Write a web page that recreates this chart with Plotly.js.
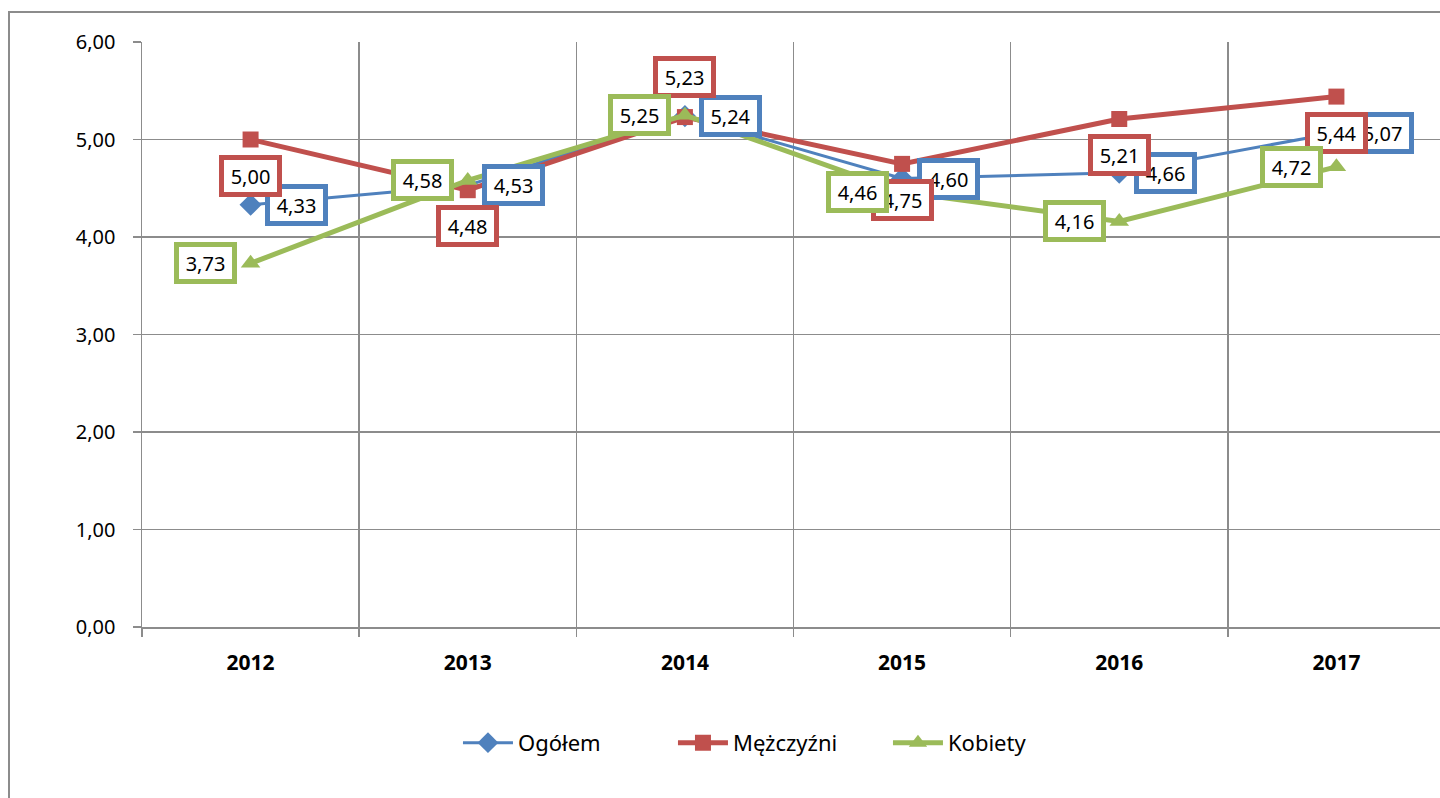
<!DOCTYPE html>
<html>
<head>
<meta charset="utf-8">
<script src="https://cdn.plot.ly/plotly-3.0.1.min.js"></script>
<style>
  html, body { margin: 0; padding: 0; overflow: hidden; background: #fff; width: 1440px; height: 798px; }
  #chart { position: absolute; left: 0; top: 0; width: 1460px; height: 800px; }
  #frame { position: absolute; left: 8px; top: 11px; width: 1500px; height: 900px;
           border-left: 2px solid #8c8c8c; border-top: 2px solid #8c8c8c; pointer-events: none; }
</style>
</head>
<body>
<div id="frame"></div>
<div id="chart"></div>
<script>
// ---- data ----
const years = ['2012', '2013', '2014', '2015', '2016', '2017'];
const ogolem = [4.33, 4.53, 5.24, 4.60, 4.66, 5.07];
const mezczyzni = [5.00, 4.48, 5.23, 4.75, 5.21, 5.44];
const kobiety = [3.73, 4.58, 5.25, 4.46, 4.16, 4.72];
const seriesNames = ['Ogółem', 'Mężczyźni', 'Kobiety'];

// ---- styling ----
const FONT = 'Noto Sans, Open Sans, sans-serif';
const colors = ['#4F81BD', '#C0504D', '#9BBB59'];
const symbols = ['diamond', 'square', 'triangle-up'];
const lineWidths = [3, 5, 5];
const markerSizes = [17, 16, 17];
// label placement for the second series (style only)
const redPlacement = ['below', 'below', 'above', 'below', 'below', 'below'];

const seriesData = [ogolem, mezczyzni, kobiety];

const traces = seriesData.map((vals, i) => ({
  type: 'scatter',
  mode: 'lines+markers',
  name: seriesNames[i],
  x: years,
  y: vals,
  line: { color: colors[i], width: lineWidths[i] },
  marker: { color: colors[i], symbol: symbols[i], size: markerSizes[i] },
  cliponaxis: false
}));

const fmt = v => v.toFixed(2).replace('.', ',');

// category axis: annotation x uses the category's serial number
function labelAnn(idx, y, color, xshift, yshift) {
  return {
    x: idx, y: y, xref: 'x', yref: 'y',
    text: fmt(y), showarrow: false,
    xshift: xshift, yshift: yshift,
    font: { family: FONT, size: 20, color: '#000' },
    bgcolor: '#fff', bordercolor: color, borderwidth: 5, borderpad: 2,
    width: 49, height: 28
  };
}

const annotations = [];
years.forEach((yr, j) => annotations.push(labelAnn(j, ogolem[j], colors[0], 46, 0)));
years.forEach((yr, j) => annotations.push(labelAnn(j, mezczyzni[j], colors[1], 0,
  redPlacement[j] === 'above' ? 40 : -36)));
years.forEach((yr, j) => annotations.push(labelAnn(j, kobiety[j], colors[2], -45, 0)));

const layout = {
  width: 1460, height: 800,
  margin: { l: 142, r: 15, t: 42, b: 173 },
  paper_bgcolor: 'rgba(0,0,0,0)',
  plot_bgcolor: 'rgba(0,0,0,0)',
  separators: ', ',
  showlegend: true,
  font: { family: FONT, size: 20, color: '#000' },
  xaxis: {
    type: 'category',
    tickson: 'boundaries',
    showgrid: true, gridcolor: '#8c8c8c', gridwidth: 1.5,
    showline: true, linecolor: '#8c8c8c', linewidth: 1.5,
    ticks: 'outside', ticklen: 8, tickcolor: '#8c8c8c', tickwidth: 1.5,
    tickfont: { family: FONT, size: 21, color: '#000', weight: 'bold' },
    ticklabelstandoff: 16,
    range: [-0.5, 5.5],
    fixedrange: true
  },
  yaxis: {
    range: [0, 6], dtick: 1, tick0: 0,
    tickformat: '.2f',
    showgrid: true, gridcolor: '#8c8c8c', gridwidth: 1.5,
    showline: true, linecolor: '#8c8c8c', linewidth: 1.5,
    ticks: 'outside', ticklen: 8, tickcolor: '#8c8c8c', tickwidth: 1.5,
    tickfont: { family: FONT, size: 20, color: '#000' },
    ticklabelstandoff: 13,
    zeroline: false,
    fixedrange: true
  },
  legend: {
    orientation: 'h',
    x: 0.49, xanchor: 'center',
    y: -0.198, yanchor: 'middle',
    font: { family: FONT, size: 22, color: '#000' },
    itemwidth: 50,
    entrywidth: 150,
    bgcolor: 'rgba(0,0,0,0)'
  },
  annotations: annotations
};

Plotly.newPlot('chart', traces, layout, { staticPlot: true, displayModeBar: false });
</script>
</body>
</html>
